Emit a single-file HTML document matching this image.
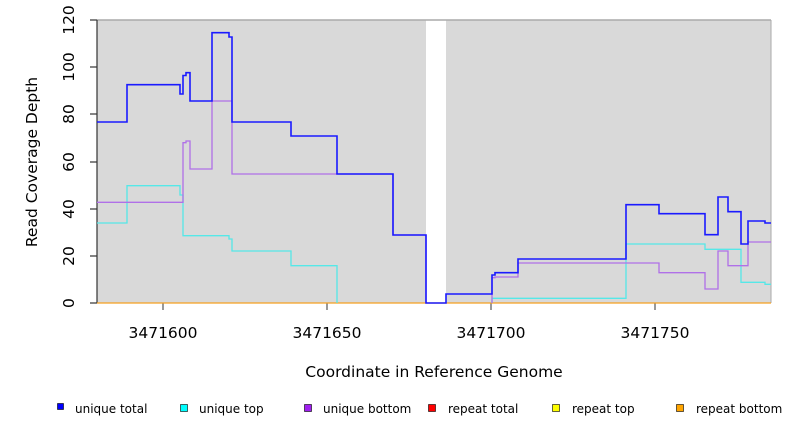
<!DOCTYPE html>
<html><head><style>
body{margin:0;background:#fff;width:792px;height:432px;overflow:hidden}
svg{display:block}
text{font-family:"DejaVu Sans","Liberation Sans",sans-serif;fill:#000}
</style></head><body>
<svg width="792" height="432" viewBox="0 0 792 432">
<rect x="97" y="20" width="674" height="283" fill="#d9d9d9"/>
<rect x="426" y="20" width="20" height="283" fill="#fff"/>
<line x1="97" y1="20" x2="771" y2="20" stroke="#aaa" stroke-width="1.5"/>
<line x1="771" y1="20" x2="771" y2="303" stroke="#aaa"/>
<line x1="97" y1="20" x2="97" y2="303" stroke="#333" stroke-width="1.2"/>
<g stroke="#333" stroke-width="1.2">
<line x1="90" y1="303" x2="97" y2="303"/><line x1="90" y1="256" x2="97" y2="256"/>
<line x1="90" y1="209" x2="97" y2="209"/><line x1="90" y1="162" x2="97" y2="162"/>
<line x1="90" y1="114" x2="97" y2="114"/><line x1="90" y1="67" x2="97" y2="67"/>
<line x1="90" y1="20" x2="97" y2="20"/>
</g>
<g stroke="#555" stroke-width="1.2">
<line x1="163" y1="303" x2="163" y2="310"/><line x1="327" y1="303" x2="327" y2="310"/>
<line x1="491" y1="303" x2="491" y2="310"/><line x1="655" y1="303" x2="655" y2="310"/>
</g>
<g font-size="15.5" text-anchor="middle">
<text transform="translate(74,303) rotate(-90)">0</text>
<text transform="translate(74,256) rotate(-90)">20</text>
<text transform="translate(74,209) rotate(-90)">40</text>
<text transform="translate(74,162) rotate(-90)">60</text>
<text transform="translate(74,114) rotate(-90)">80</text>
<text transform="translate(74,67) rotate(-90)">100</text>
<text transform="translate(74,20) rotate(-90)">120</text>
<text x="163" y="338">3471600</text><text x="327" y="338">3471650</text>
<text x="491" y="338">3471700</text><text x="655" y="338">3471750</text>
<text x="434" y="377">Coordinate in Reference Genome</text>
<text transform="translate(37,162) rotate(-90)">Read Coverage Depth</text>
</g>
<line x1="97" y1="303" x2="771" y2="303" stroke="#f5a020" stroke-width="1.2"/>
<g fill="none" stroke-width="1.3">
<polyline stroke="#55e8e8" points="97,223 127,223 127,185.7 180,185.7 180,195 183,195 183,235.7 229,235.7 229,239 232,239 232,251 291,251 291,265.7 337,265.7 337,303"/>
<polyline stroke="#55e8e8" points="492,303 492,298.3 626,298.3 626,244 705,244 705,249.3 741,249.3 741,282.3 765,282.3 765,284.3 771,284.3"/>
<polyline stroke="#b070e8" points="97,202.3 183,202.3 183,142.7 186,142.7 186,141 190,141 190,169 212,169 212,101 232,101 232,174 393,174 393,235 426,235 426,303"/>
<polyline stroke="#b070e8" points="492,303 492,277.7 495,277.7 495,277 518,277 518,263 659,263 659,272.7 705,272.7 705,289 718,289 718,251 728,251 728,265.7 748,265.7 748,242 771,242"/>
<polyline stroke="#1a1aff" stroke-width="1.6" points="97,122 127,122 127,84.7 180,84.7 180,94 183,94 183,75.5 186,75.5 186,72.7 190,72.7 190,101 212,101 212,32.7 229,32.7 229,37 232,37 232,122 291,122 291,136 337,136 337,174 393,174 393,235 426,235 426,303 446,303 446,294 492,294 492,275 495,275 495,272.7 518,272.7 518,259 626,259 626,204.7 659,204.7 659,213.7 705,213.7 705,234.7 718,234.7 718,197 728,197 728,211.7 741,211.7 741,244 748,244 748,221 765,221 765,223 771,223"/>
</g>
<g font-size="12" stroke="#000" stroke-width="0.6">
<rect x="57.5" y="403.5" width="6" height="6" fill="#00f"/>
<rect x="180.5" y="404.5" width="7" height="7" fill="#0ff"/>
<rect x="304.5" y="404.5" width="7" height="7" fill="#a020f0"/>
<rect x="428.5" y="404.5" width="7" height="7" fill="#f00"/>
<rect x="552.5" y="404.5" width="7" height="7" fill="#ff0"/>
<rect x="676.5" y="404.5" width="7" height="7" fill="#ffa500"/>
</g>
<g font-size="12">
<text x="75" y="413">unique total</text>
<text x="199" y="413">unique top</text>
<text x="323" y="413">unique bottom</text>
<text x="448" y="413">repeat total</text>
<text x="572" y="413">repeat top</text>
<text x="696" y="413">repeat bottom</text>
</g>
</svg>
</body></html>
